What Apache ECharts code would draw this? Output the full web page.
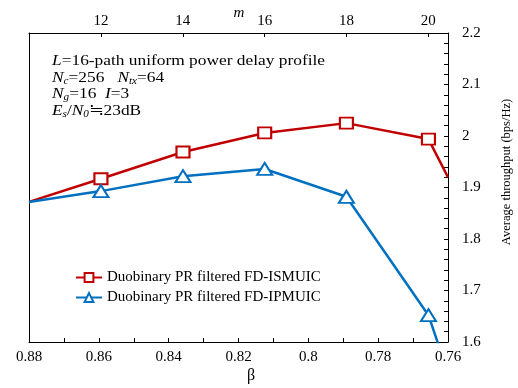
<!DOCTYPE html>
<html>
<head>
<meta charset="utf-8">
<script src="https://cdn.jsdelivr.net/npm/echarts@6/dist/echarts.min.js"></script>
<style>
  html, body { margin: 0; padding: 0; background: #fff; }
  #chart { width: 518px; height: 388px; }
</style>
</head>
<body>
<div id="chart"></div>
<script>
// beta values (bottom axis); first and last are the plot edges (no markers)
const betaValues = [0.88, 0.8594, 0.8359, 0.8125, 0.7891, 0.7656, 0.76];
const ismuicValues = [1.872, 1.917, 1.969, 2.006, 2.025, 1.994, 1.920];
const ipmuicValues = [1.872, 1.893, 1.922, 1.936, 1.882, 1.652, 1.54];
const mTicks = [12, 14, 16, 18, 20];
const seriesNames = ["Duobinary PR filtered FD-ISMUIC", "Duobinary PR filtered FD-IPMUIC"];

const serif = "'Liberation Serif', 'Times New Roman', serif";

function buildData(values) {
  return values.map((v, i) => {
    const item = { value: [betaValues[i], v] };
    if (i === 0 || i === values.length - 1) item.symbol = "none";
    return item;
  });
}

const chart = echarts.init(document.getElementById("chart"));
const option = {
  animation: false,
  backgroundColor: "#fff",
  grid: { left: 29, right: 70, top: 33, bottom: 46, outerBoundsMode: "none" },
  legend: {
    orient: "vertical",
    left: 70,
    top: 265,
    itemGap: 5,
    itemWidth: 26,
    itemHeight: 11,
    textStyle: { fontFamily: serif, fontSize: 15, color: "#000" },
    data: seriesNames
  },
  xAxis: [
    {
      type: "value",
      position: "bottom",
      min: 0.76,
      max: 0.88,
      interval: 0.02,
      inverse: true,
      axisLine: { onZero: false, lineStyle: { color: "#000", width: 1 } },
      axisTick: { inside: true, length: 4, lineStyle: { color: "#000" } },
      minorTick: { show: true, splitNumber: 2, length: 4, lineStyle: { color: "#000" } },
      axisLabel: { fontFamily: serif, fontSize: 15, color: "#000", margin: 8 },
      splitLine: { show: false }
    },
    {
      type: "value",
      position: "top",
      min: 10.24,
      max: 20.48,
      axisLine: { onZero: false, lineStyle: { color: "#000", width: 1 } },
      axisTick: { inside: true, length: 4, customValues: mTicks, lineStyle: { color: "#000" } },
      axisLabel: { fontFamily: serif, fontSize: 15, color: "#000", margin: 4, customValues: mTicks },
      splitLine: { show: false }
    }
  ],
  yAxis: [
    {
      type: "value",
      position: "right",
      min: 1.6,
      max: 2.2,
      interval: 0.1,
      axisLine: { show: true, onZero: false, lineStyle: { color: "#000", width: 1 } },
      axisTick: { inside: true, length: 4, lineStyle: { color: "#000" } },
      minorTick: { show: true, splitNumber: 5, length: 4, lineStyle: { color: "#000" } },
      axisLabel: { fontFamily: serif, fontSize: 15, color: "#000", margin: 14 },
      splitLine: { show: false }
    },
    {
      type: "value",
      position: "left",
      min: 1.6,
      max: 2.2,
      axisLine: { show: true, onZero: false, lineStyle: { color: "#000", width: 1 } },
      axisTick: { show: false },
      axisLabel: { show: false },
      splitLine: { show: false }
    }
  ],
  graphic: [
    {
      type: "text",
      left: 52,
      top: 53,
      scaleX: 1.12,
      style: {
        text: [
          "{i|L}=16-path uniform power delay profile",
          "{i|N}{s|c}=256   {i|N}{s|tx}=64",
          "{i|N}{s|g}=16  {i|I}=3",
          "{i|E}{s|s}/{i|N}{s|0}≒23dB"
        ].join("\n"),
        fontFamily: serif,
        fontSize: 15.5,
        fill: "#000",
        lineHeight: 16.5,
        rich: {
          i: { fontFamily: serif, fontSize: 15.5, fontStyle: "italic", lineHeight: 16.5 },
          s: { fontFamily: serif, fontSize: 10, fontStyle: "italic", verticalAlign: "bottom", padding: [6, 0, 0, 0], lineHeight: 16.5 }
        }
      }
    },
    {
      type: "text",
      x: 239,
      y: 13,
      style: { text: "m", fontFamily: serif, fontSize: 15, fontStyle: "italic", fill: "#000", align: "center", verticalAlign: "middle" }
    },
    {
      type: "text",
      x: 251,
      y: 376,
      style: { text: "β", fontFamily: serif, fontSize: 16, fill: "#000", align: "center", verticalAlign: "middle" }
    },
    {
      type: "text",
      x: 507,
      y: 172,
      rotation: Math.PI / 2,
      style: { text: "Average throughput (bps/Hz)", fontFamily: serif, fontSize: 12.5, fill: "#000", align: "center", verticalAlign: "middle" }
    }
  ],
  series: [
    {
      name: seriesNames[0],
      type: "line",
      xAxisIndex: 0,
      yAxisIndex: 0,
      data: buildData(ismuicValues),
      symbol: "rect",
      symbolSize: [13, 11],
      showAllSymbol: true,
      color: "#c00000",
      lineStyle: { width: 2.5, color: "#c00000" },
      itemStyle: { color: "#fff", borderColor: "#c00000", borderWidth: 2 }
    },
    {
      name: seriesNames[1],
      type: "line",
      xAxisIndex: 0,
      yAxisIndex: 0,
      data: buildData(ipmuicValues),
      symbol: "triangle",
      symbolSize: [15, 12],
      showAllSymbol: true,
      color: "#0070c0",
      lineStyle: { width: 2.5, color: "#0070c0" },
      itemStyle: { color: "#fff", borderColor: "#0070c0", borderWidth: 2 }
    }
  ]
};
chart.setOption(option);
</script>
</body>
</html>
